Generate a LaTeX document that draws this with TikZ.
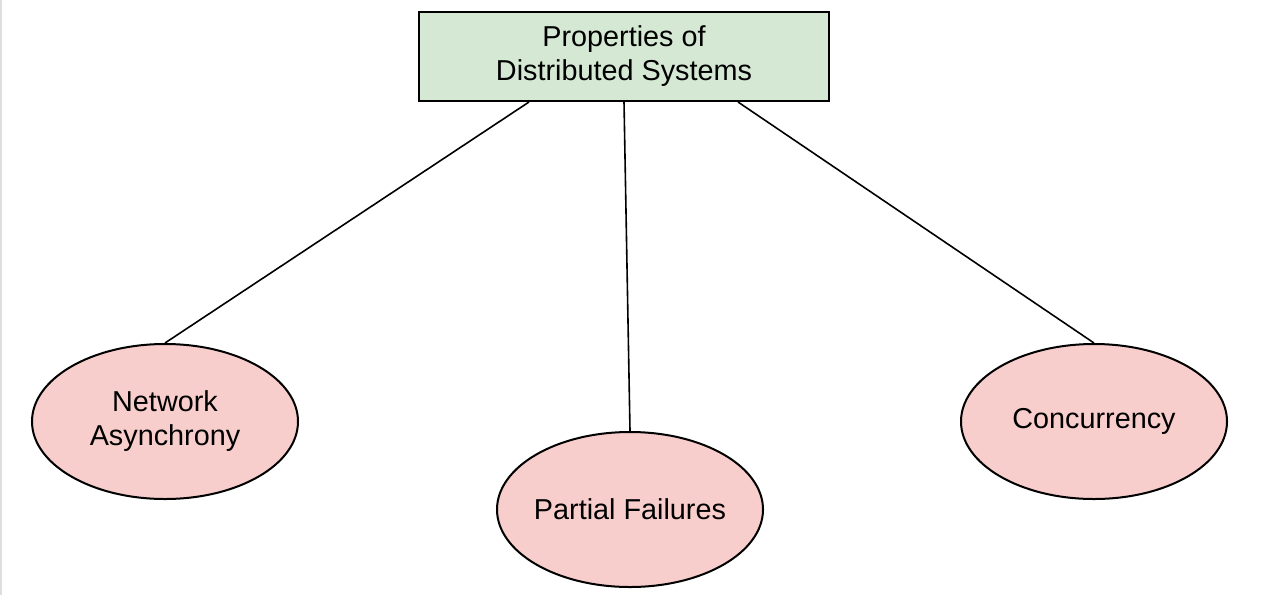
\documentclass[tikz,border=0pt]{standalone}
\usepackage{fontspec}
\setmainfont{Liberation Sans}
\usetikzlibrary{shapes.geometric}
\definecolor{boxgreen}{HTML}{D5E8D4}
\definecolor{ellred}{HTML}{F8CECC}
\begin{document}
\begin{tikzpicture}[x=0.5pt,y=-0.5pt,
  rootbox/.style={draw=black, fill=boxgreen, line width=1pt, minimum width=205pt, minimum height=44.5pt, inner sep=0pt, align=center, font=\fontsize{14.4pt}{17pt}\selectfont},
  leaf/.style={ellipse, draw=black, fill=ellred, line width=1pt, minimum width=133pt, minimum height=77.5pt, inner ysep=0pt, inner xsep=-6pt, align=center, font=\fontsize{14.4pt}{17pt}\selectfont},
  link/.style={draw=black, line width=0.8pt}]
\useasboundingbox (0,0) rectangle (1262,595);
\draw[color=black!13, line width=0.6pt] (1,0) -- (1,595);
\node[rootbox] (top) at (624,56.5) {Properties of\\Distributed Systems};
\node[leaf] (net) at (165,421.5) {Network\\Asynchrony};
\node[leaf] (part) at (630,509.5) {Partial Failures};
\node[leaf] (conc) at (1094,421.5) {Concurrency};
\draw[link] ([xshift=-47.5pt]top.south) -- (net.north);
\draw[link] (top.south) -- (part.north);
\draw[link] ([xshift=57pt]top.south) -- (conc.north);
\end{tikzpicture}
\end{document}
